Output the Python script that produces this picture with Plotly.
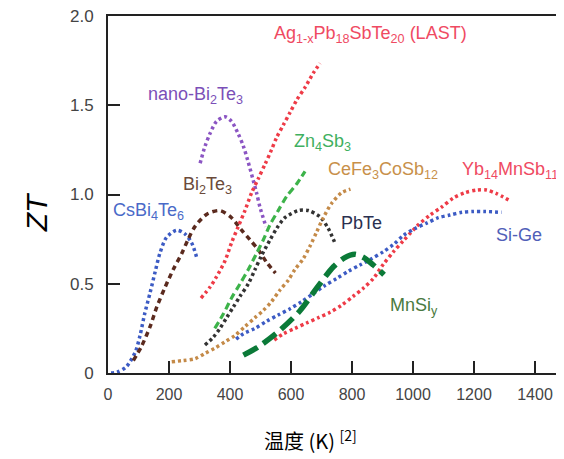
import plotly.graph_objects as go

# ---- data (temperature K, ZT) ----
cs_k = [10, 30, 60, 90, 105, 120, 138, 155, 170, 192, 225, 252, 274, 292]
cs_zt = [0.0, 0.005, 0.035, 0.12, 0.21, 0.33, 0.45, 0.57, 0.67, 0.76, 0.80, 0.78, 0.73, 0.64]

bi_k = [83, 110, 138, 160, 187, 214, 242, 263, 285, 324, 367, 405, 438, 466, 493, 520, 549]
bi_zt = [0.07, 0.15, 0.26, 0.37, 0.48, 0.58, 0.67, 0.75, 0.82, 0.89, 0.91, 0.87, 0.80, 0.745, 0.69, 0.62, 0.56]

nano_k = [302, 318, 334, 356, 384, 405, 427, 444, 460, 476, 487, 498, 518]
nano_zt = [1.175, 1.27, 1.34, 1.41, 1.435, 1.41, 1.34, 1.27, 1.18, 1.08, 1.01, 0.93, 0.82]

last_k = [305, 334, 356, 384, 405, 427, 449, 471, 493, 515, 536, 553, 575, 597, 619, 646, 673, 695]
last_zt = [0.42, 0.48, 0.54, 0.63, 0.73, 0.82, 0.91, 1.01, 1.09, 1.17, 1.25, 1.32, 1.39, 1.46, 1.53, 1.60, 1.68, 1.735]

zn_k = [350, 378, 405, 433, 460, 487, 509, 531, 558, 586, 619, 646]
zn_zt = [0.25, 0.33, 0.42, 0.50, 0.58, 0.67, 0.745, 0.83, 0.91, 0.99, 1.06, 1.13]

pb_k = [318, 345, 367, 389, 411, 433, 460, 482, 504, 531, 553, 580, 624, 657, 695, 722, 746]
pb_zt = [0.157, 0.20, 0.25, 0.31, 0.37, 0.43, 0.50, 0.58, 0.66, 0.745, 0.81, 0.87, 0.91, 0.91, 0.875, 0.81, 0.72]

ce_k = [209, 247, 285, 318, 351, 384, 416, 449, 482, 509, 536, 564, 591, 613, 640, 662, 684, 706, 733, 766, 795]
ce_zt = [0.063, 0.07, 0.08, 0.11, 0.14, 0.175, 0.21, 0.26, 0.31, 0.35, 0.40, 0.465, 0.52, 0.58, 0.64, 0.71, 0.79, 0.87, 0.95, 1.01, 1.03]

yb_k = [545, 575, 613, 651, 690, 728, 766, 804, 837, 870, 903, 936, 968, 1000, 1017, 1056, 1094, 1132, 1170, 1209, 1241, 1274, 1313]
yb_zt = [0.185, 0.22, 0.25, 0.28, 0.31, 0.34, 0.38, 0.43, 0.475, 0.53, 0.61, 0.68, 0.74, 0.80, 0.83, 0.885, 0.93, 0.98, 1.01, 1.025, 1.025, 1.005, 0.97]

sige_k = [420, 444, 482, 520, 558, 597, 635, 673, 711, 750, 788, 826, 864, 903, 936, 968, 1007, 1045, 1083, 1121, 1160, 1197, 1236, 1290]
sige_zt = [0.19, 0.22, 0.25, 0.29, 0.325, 0.36, 0.40, 0.445, 0.49, 0.53, 0.57, 0.605, 0.64, 0.68, 0.72, 0.77, 0.81, 0.84, 0.87, 0.885, 0.90, 0.905, 0.905, 0.90]

mn_k = [444, 493, 564, 630, 684, 739, 775, 810, 840, 870, 905]
mn_zt = [0.10, 0.147, 0.24, 0.35, 0.475, 0.595, 0.645, 0.665, 0.645, 0.605, 0.55]

x_ticks = [0, 200, 400, 600, 800, 1000, 1200, 1400]
y_ticks = [0, 0.5, 1.0, 1.5, 2.0]
y_ticktext = ["0", "0.5", "1.0", "1.5", "2.0"]

# ---- styling ----
series = [
    (cs_k, cs_zt, "#3c5bc4", 3.5, "3px,3px"),
    (bi_k, bi_zt, "#5b2a1e", 3.5, "5px,4px"),
    (nano_k, nano_zt, "#8b55c3", 3.5, "3px,3px"),
    (last_k, last_zt, "#ee3b47", 3.5, "3px,3px"),
    (zn_k, zn_zt, "#3db34a", 3.2, "7px,4px"),
    (pb_k, pb_zt, "#333333", 3.5, "3px,3px"),
    (ce_k, ce_zt, "#c48a48", 3.5, "3px,3px"),
    (yb_k, yb_zt, "#ee3b47", 3.5, "3px,3px"),
    (sige_k, sige_zt, "#3c5bc4", 3.5, "3px,3px"),
    (mn_k, mn_zt, "#0b7a38", 5.5, "16px,7px"),
]

labels = [
    ("Ag<sub>1-x</sub>Pb<sub>18</sub>SbTe<sub>20</sub> (LAST)", 861, 1.894, "#ef4a62", "center"),
    ("nano-Bi<sub>2</sub>Te<sub>3</sub>", 287, 1.557, "#7b4fb8", "center"),
    ("Zn<sub>4</sub>Sb<sub>3</sub>", 703, 1.294, "#3fb060", "center"),
    ("CeFe<sub>3</sub>CoSb<sub>12</sub>", 903, 1.132, "#c8904a", "center"),
    ("Yb<sub>14</sub>MnSb<sub>11</sub>", 1154, 1.132, "#ef4a62", "left"),
    ("Bi<sub>2</sub>Te<sub>3</sub>", 326, 1.053, "#6b4a3a", "center"),
    ("CsBi<sub>4</sub>Te<sub>6</sub>", 133, 0.902, "#4a6ac8", "center"),
    ("PbTe", 831, 0.840, "#2a3050", "center"),
    ("Si-Ge", 1348, 0.773, "#5060b8", "center"),
    ("MnSi<sub>y</sub>", 1003, 0.37, "#4a7a40", "center"),
]

fig = go.Figure()
for xs, ys, col, w, dash in series:
    fig.add_trace(go.Scatter(x=xs, y=ys, mode="lines",
                             line=dict(color=col, width=w, dash=dash, shape="spline", smoothing=0.8),
                             showlegend=False, hoverinfo="skip"))

annots = []
for txt, x, y, col, anc in labels:
    annots.append(dict(text=txt, x=x, y=y, xref="x", yref="y", showarrow=False,
                       xanchor=anc, yanchor="middle",
                       font=dict(family="Liberation Sans, Arial", size=18, color=col)))

annots.append(dict(text="ZT", x=-0.158, y=0.45, xref="paper", yref="paper", showarrow=False,
                   textangle=-90, xanchor="center", yanchor="middle",
                   font=dict(family="Liberation Sans, Arial", size=30, color="#000", style="italic")))
annots.append(dict(text="温度 (K) <sup>[2]</sup>", x=0.443, y=-0.188, xref="paper", yref="paper",
                   showarrow=False, xanchor="center", yanchor="middle",
                   font=dict(family="Noto Sans CJK SC", size=20, color="#000")))

# the page body has an 8px margin, so the figure is made 8px smaller and the
# margins are reduced so the plot area lands where the reference has it
fig.update_layout(
    width=556, height=451,
    margin=dict(l=100, r=0, t=8, b=86),
    paper_bgcolor="white", plot_bgcolor="white",
    annotations=annots,
    xaxis=dict(range=[0, 1495], tickvals=x_ticks, ticks="inside", ticklen=12, tickwidth=2,
               tickcolor="#222", showline=True, linecolor="#222", linewidth=2, mirror=True,
               showgrid=False, zeroline=False, ticklabeloverflow="allow",
               tickfont=dict(family="Liberation Sans, Arial", size=16, color="#444"),
               ticklabelstandoff=6),
    yaxis=dict(range=[0, 2.0], tickvals=y_ticks, ticktext=y_ticktext, ticks="inside", ticklen=12,
               tickwidth=2, tickcolor="#222", showline=True, linecolor="#222", linewidth=2,
               showgrid=False, zeroline=False, ticklabeloverflow="allow",
               tickfont=dict(family="Liberation Sans, Arial", size=17, color="#444"),
               ticklabelstandoff=9),
)

fig.write_html("out.html")
